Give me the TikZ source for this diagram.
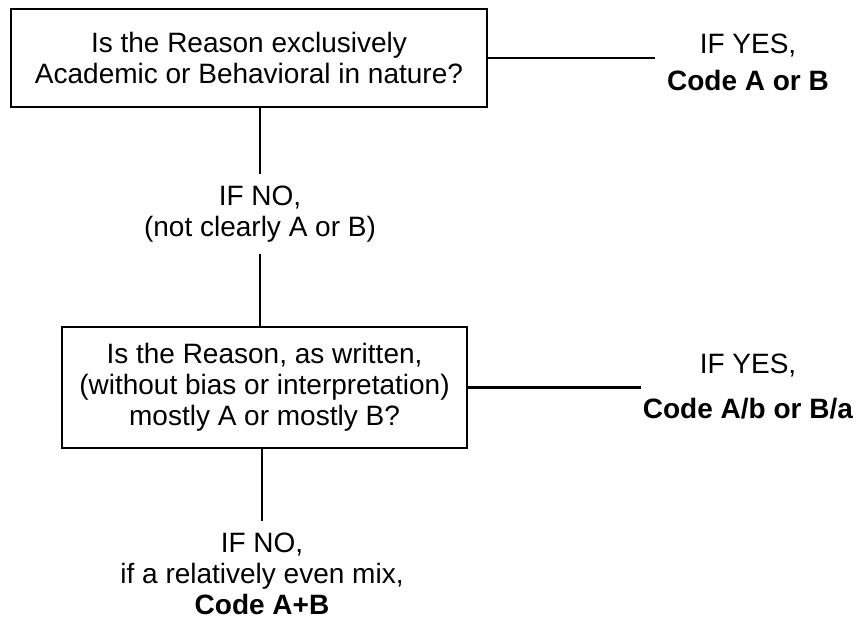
\documentclass[tikz,border=0pt]{standalone}
\usepackage{fontspec}
\setmainfont{Liberation Sans}
\usepackage{tikz}
\usetikzlibrary{positioning}

\begin{document}
\begin{tikzpicture}[
    x=1pt, y=-1pt,
    question/.style={draw, line width=2.8pt, align=center, inner sep=0pt, font=\fontsize{28}{31}\selectfont},
    answer/.style={align=center, inner sep=12pt, font=\fontsize{28}{31}\selectfont},
    link/.style={line width=2.3pt}
]
    \useasboundingbox (0,0) rectangle (863,624);

    \node[question, minimum width=476pt, minimum height=98pt] (excl) at (249,58) {Is the Reason exclusively\\Academic or Behavioral in nature?};
    \node[answer] (yesA) at (748,62) {IF YES,\\[6pt]\textbf{Code A or B}};
    \node[answer] (noA) at (260,214) {IF NO,\\(not clearly A or B)};

    \node[question, minimum width=405pt, minimum height=121pt] (mostly) at (264.5,387.5) {Is the Reason, as written,\\(without bias or interpretation)\\mostly A or mostly B?};
    \node[answer, inner xsep=2pt] (yesB) at (748,387) {IF YES,\\[14pt]\textbf{Code A/b or B/a}};
    \node[answer] (noB) at (262,574) {IF NO,\\if a relatively even mix,\\\textbf{Code A+B}};

    \draw[link] (excl.east) -- (excl.east -| yesA.west);
    \draw[link] (excl.south -| noA.north) -- (noA.north);
    \draw[link] (noA.south) -- (noA.south |- mostly.north);
    \draw[link] (mostly.east) -- (mostly.east -| yesB.west);
    \draw[link] (mostly.south -| noB.north) -- (noB.north);
\end{tikzpicture}
\end{document}
